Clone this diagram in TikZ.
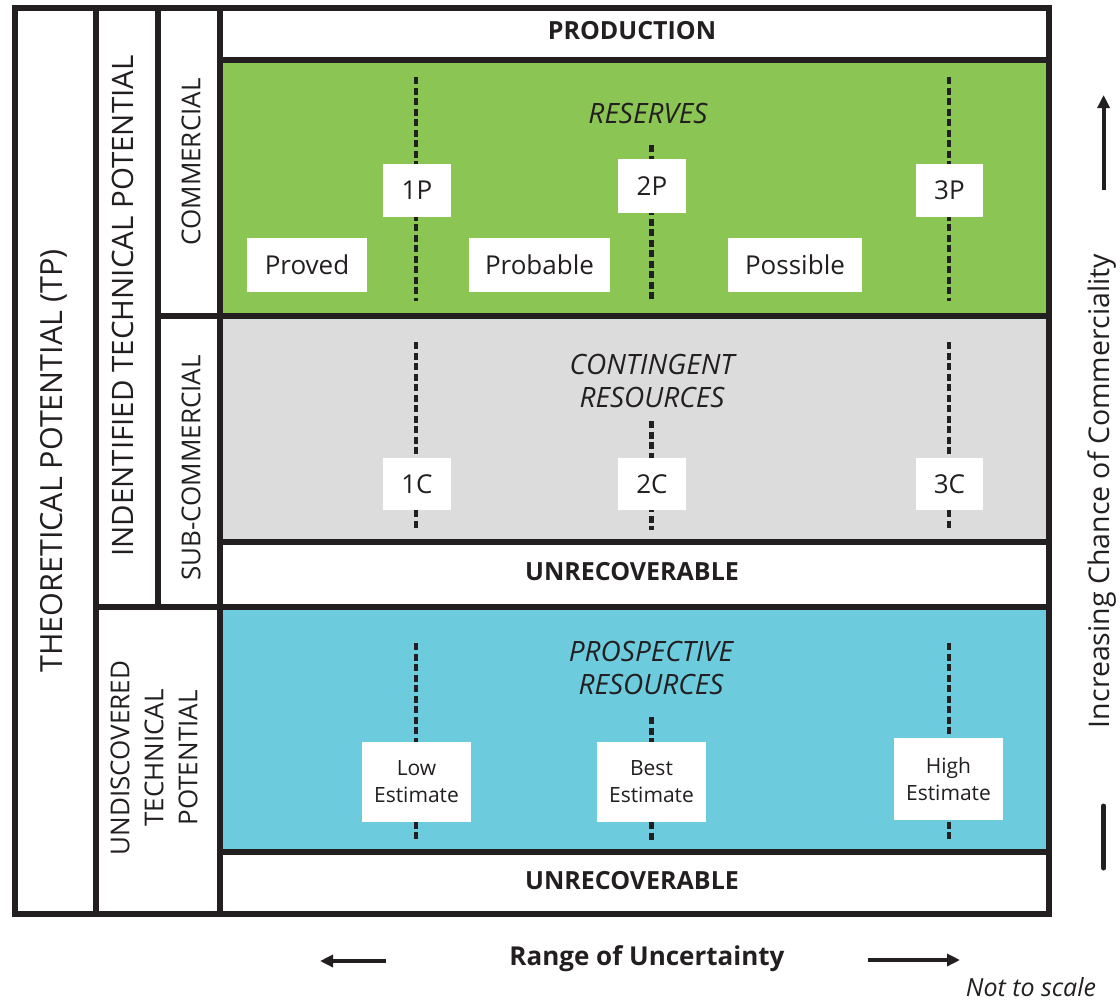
\documentclass[tikz,border=0pt]{standalone}
\usepackage{fontspec}
\setmainfont{Open Sans}
\usetikzlibrary{arrows.meta}
\definecolor{ink}{HTML}{231F20}
\definecolor{resgreen}{HTML}{8BC554}
\definecolor{congrey}{HTML}{DCDCDC}
\definecolor{prosblue}{HTML}{6DCBDE}
\tikzset{
  frame/.style={line width=6pt, draw=ink, line join=miter},
  dashln/.style={line width=4.5pt, draw=ink, dash pattern=on 7pt off 3.5pt},
  lbl/.style={fill=white, inner sep=0pt, text=ink, font=\fontsize{26}{30}\selectfont},
  est/.style={fill=white, inner sep=0pt, text=ink, align=center, font=\fontsize{21}{27}\selectfont, minimum width=109pt, minimum height=80pt},
  head/.style={text=ink, inner sep=0pt, font=\bfseries\fontsize{25}{30}\selectfont},
  cat/.style={text=ink, inner sep=0pt, align=center, font=\itshape\fontsize{28}{33}\selectfont},
  side/.style={rotate=90, text=ink, inner sep=0pt, align=center, font=\fontsize{26}{34}\selectfont},
  arr/.style={line width=4pt, draw=ink, -{Triangle[length=13pt,width=12pt]}}
}
\begin{document}
\begin{tikzpicture}[x=1pt,y=-1pt]
\useasboundingbox (0,0) rectangle (1120,1002);
% fills
\fill[white] (14.7,8) rectangle (1048.7,914);
\fill[resgreen] (220.3,59.5) rectangle (1048.7,316);
\fill[congrey] (220.3,316) rectangle (1048.7,542);
\fill[prosblue] (220.3,607) rectangle (1048.7,852);
% frame lines
\draw[frame] (14.7,8) rectangle (1048.7,914);
\draw[frame] (95.7,8) -- (95.7,914);
\draw[frame] (158,8) -- (158,607);
\draw[frame] (220.3,8) -- (220.3,914);
\draw[frame] (220.3,59.5) -- (1048.7,59.5);
\draw[frame] (158,316) -- (1048.7,316);
\draw[frame] (220.3,542) -- (1048.7,542);
\draw[frame] (95.7,607) -- (1048.7,607);
\draw[frame] (220.3,852) -- (1048.7,852);
% row headings
\node[head] (prod) at (632,31) {PRODUCTION};
\node[head] (unrec1) at (632,572) {UNRECOVERABLE};
\node[head] (unrec2) at (632,881) {UNRECOVERABLE};
\node[cat] (reserves) at (648,113) {RESERVES};
\node[cat] (contingent) at (652,381) {CONTINGENT\\RESOURCES};
\node[cat] (prospective) at (651,668) {PROSPECTIVE\\RESOURCES};
% side labels
\node[side, font=\fontsize{30.5}{36}\selectfont] (tp) at (54,461) {THEORETICAL POTENTIAL (TP)};
\node[side, font=\fontsize{29.5}{36}\selectfont] (itp) at (123,306) {INDENTIFIED TECHNICAL POTENTIAL};
\node[side] (comm) at (191,162) {COMMERCIAL};
\node[side] (subcomm) at (191,468) {SUB-COMMERCIAL};
\node[side] (utp) at (154,758) {UNDISCOVERED\\TECHNICAL\\POTENTIAL};
% dashed coordinates
\coordinate (g1t) at (416,77);   \coordinate (g1b) at (416,301);
\coordinate (g2t) at (651.5,145); \coordinate (g2b) at (651.5,301);
\coordinate (g3t) at (949,77);   \coordinate (g3b) at (949,301);
\coordinate (c1t) at (416,342);  \coordinate (c1b) at (416,530);
\coordinate (c2t) at (651.5,421); \coordinate (c2b) at (651.5,530);
\coordinate (c3t) at (949,342);  \coordinate (c3b) at (949,530);
\coordinate (b1t) at (416,643);  \coordinate (b1b) at (416,842);
\coordinate (b2t) at (651.5,717); \coordinate (b2b) at (651.5,842);
\coordinate (b3t) at (949,643);  \coordinate (b3b) at (949,842);
\foreach \a/\b in {g1t/g1b,g2t/g2b,g3t/g3b,c1t/c1b,c2t/c2b,c3t/c3b,b1t/b1b,b2t/b2b,b3t/b3b}
  \draw[dashln] (\a) -- (\b);
% boxes
\node[lbl, minimum width=68pt, minimum height=53pt] (p1) at (417,190.5) {1P};
\node[lbl, minimum width=68pt, minimum height=54pt] (p2) at (652,186) {2P};
\node[lbl, minimum width=67pt, minimum height=53pt] (p3) at (949.5,190.5) {3P};
\node[lbl, minimum width=120pt, minimum height=54pt] (proved) at (307,265) {Proved};
\node[lbl, minimum width=141pt, minimum height=54pt] (probable) at (539.5,265) {Probable};
\node[lbl, minimum width=134pt, minimum height=54pt] (possible) at (795,265) {Possible};
\node[lbl, minimum width=68pt, minimum height=52pt] (c1) at (417,484) {1C};
\node[lbl, minimum width=68pt, minimum height=52pt] (c2) at (652,484) {2C};
\node[lbl, minimum width=67pt, minimum height=52pt] (c3) at (949.5,484) {3C};
\node[est] (low) at (416.5,782) {Low\\Estimate};
\node[est] (best) at (651.5,782) {Best\\Estimate};
\node[est, minimum height=82pt] (high) at (948.5,779) {High\\Estimate};
% right axis
\node[side, font=\fontsize{28.5}{32}\selectfont] (incr) at (1102,491) {Increasing Chance of Commerciality};
\coordinate (upS) at (1103.6,190); \coordinate (upE) at (1103.6,95);
\draw[arr] (upS) -- (upE);
\coordinate (loS) at (1103.6,806); \coordinate (loE) at (1103.6,868);
\draw[line width=5pt, draw=ink, line cap=round] (loS) -- (loE);
% bottom axis
\node[head, font=\bfseries\fontsize{26}{32}\selectfont] (range) at (647,959) {Range of Uncertainty};
\coordinate (lS) at (386,961); \coordinate (lE) at (320,961);
\draw[arr] (lS) -- (lE);
\coordinate (rS) at (868,960); \coordinate (rE) at (960,960);
\draw[arr] (rS) -- (rE);
\node[text=ink, inner sep=0pt, font=\itshape\fontsize{25}{28}\selectfont] (nts) at (1031,987) {Not to scale};
\end{tikzpicture}
\end{document}
